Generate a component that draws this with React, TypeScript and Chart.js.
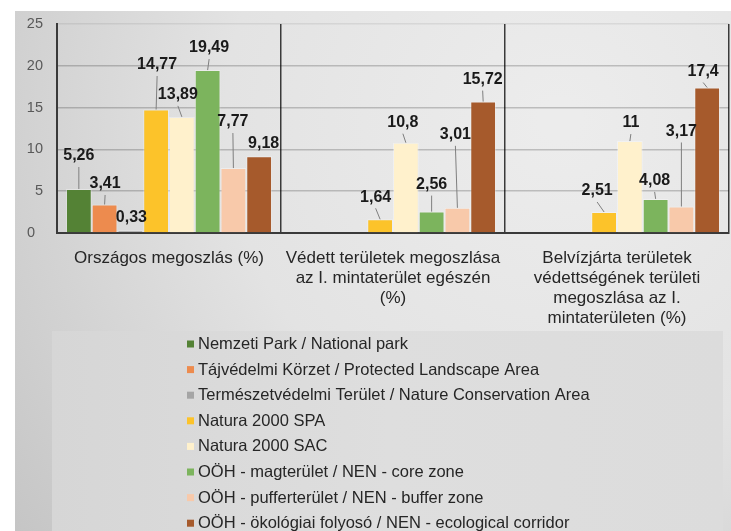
import React, { useEffect, useRef } from "react";
import { Chart, registerables } from "chart.js";
Chart.register(...registerables);

const categories: string[][] = [
  ["Országos megoszlás (%)"],
  ["Védett területek megoszlása", "az I. mintaterület egészén", "(%)"],
  ["Belvízjárta területek", "védettségének területi", "megoszlása az I.", "mintaterületen (%)"],
];

const seriesNames = [
  "Nemzeti Park / National park",
  "Tájvédelmi Körzet / Protected Landscape Area",
  "Természetvédelmi Terület / Nature Conservation Area",
  "Natura 2000 SPA",
  "Natura 2000 SAC",
  "OÖH - magterület / NEN - core zone",
  "OÖH - pufferterület / NEN - buffer zone",
  "OÖH - ökológiai folyosó / NEN - ecological corridor",
];

const nemzetiPark = [5.26, null, null];
const tajvedelmiKorzet = [3.41, null, null];
const termeszetvedelmiTerulet = [0.33, null, null];
const natura2000SPA = [14.77, 1.64, 2.51];
const natura2000SAC = [13.89, 10.8, 11];
const oohMagterulet = [19.49, 2.56, 4.08];
const oohPufferterulet = [7.77, 3.01, 3.17];
const oohOkologiaiFolyoso = [9.18, 15.72, 17.4];

const yTickMin = 0;
const yTickMax = 25;
const yTickStep = 5;

const seriesColors = [
  "#548235",
  "#ED8B4E",
  "#A5A5A5",
  "#FCC32A",
  "#FFF1CC",
  "#7CB45D",
  "#F8C9AA",
  "#A65A2C",
];

// label placement (text centre relative to bar top centre), per series, per category
const labelOffsets: number[][][] = [
  [[0, -33], [0, -15], [0, -15]],
  [[0.5, -20.5], [0, -15], [0, -15]],
  [[1, -13], [0, -15], [0, -15]],
  [[1, -44.5], [-4.5, -22], [-7, -21]],
  [[-4, -22], [-3, -20], [1, -18]],
  [[1.5, -22], [0, -27], [-1, -18]],
  [[-0.5, -46], [-2, -73], [0, -75]],
  [[4.5, -13], [-0.5, -22], [-4, -16]],
];

const seriesValues = [
  nemzetiPark,
  tajvedelmiKorzet,
  termeszetvedelmiTerulet,
  natura2000SPA,
  natura2000SAC,
  oohMagterulet,
  oohPufferterulet,
  oohOkologiaiFolyoso,
];

const FONT = "'Liberation Sans', Arial, sans-serif";

const backgroundPlugin = {
  id: "bgPlugin",
  beforeDraw(chart: any) {
    const ctx = chart.ctx;
    ctx.save();
    ctx.fillStyle = "#ffffff";
    ctx.fillRect(0, 0, chart.width, chart.height);
    const g = ctx.createRadialGradient(560, 120, 20, 560, 120, 720);
    g.addColorStop(0, "#ececec");
    g.addColorStop(0.45, "#e3e3e3");
    g.addColorStop(1, "#c2c2c2");
    ctx.fillStyle = g;
    ctx.fillRect(15, 11, chart.width - 15, chart.height - 11);
    // legend box
    const lg = ctx.createLinearGradient(52, 0, 723, 0);
    lg.addColorStop(0, "#d6d6d6");
    lg.addColorStop(0.5, "#dedede");
    lg.addColorStop(1, "#dcdcdc");
    ctx.fillStyle = lg;
    ctx.fillRect(52, 331, 671, chart.height - 331);
    ctx.restore();
  },
};

const labelsPlugin = {
  id: "labelsPlugin",
  afterDatasetsDraw(chart: any) {
    const ctx = chart.ctx;
    ctx.save();
    ctx.font = `bold 16px ${FONT}`;
    ctx.textAlign = "center";
    ctx.textBaseline = "middle";
    chart.data.datasets.forEach((ds: any, i: number) => {
      const meta = chart.getDatasetMeta(i);
      meta.data.forEach((el: any, j: number) => {
        const v = ds.data[j];
        if (v === null || v === undefined) return;
        const off = labelOffsets[i][j];
        const tx = el.x + off[0];
        const ty = el.y + off[1];
        if (el.y - (ty + 11) > 3) {
          ctx.strokeStyle = "#7f7f7f";
          ctx.lineWidth = 1;
          ctx.beginPath();
          ctx.moveTo(tx, ty + 11);
          ctx.lineTo(el.x, el.y);
          ctx.stroke();
        }
        ctx.fillStyle = "#1a1a1a";
        ctx.fillText(String(v).replace(".", ","), tx, ty);
      });
    });
    ctx.restore();
  },
};

const legendPlugin = {
  id: "customLegend",
  afterDraw(chart: any) {
    const ctx = chart.ctx;
    ctx.save();
    ctx.font = `16.5px ${FONT}`;
    ctx.textAlign = "left";
    ctx.textBaseline = "middle";
    chart.data.datasets.forEach((ds: any, i: number) => {
      const y = 344 + i * 25.6;
      ctx.fillStyle = ds.backgroundColor;
      ctx.fillRect(187, y - 3.5, 7, 7);
      ctx.fillStyle = "#262626";
      ctx.fillText(ds.label, 198, y + 0.5);
    });
    ctx.restore();
  },
};

export default function App() {
  const ref = useRef<HTMLCanvasElement | null>(null);
  useEffect(() => {
    if (!ref.current) return;
    const chart = new Chart(ref.current, {
      type: "bar",
      data: {
        labels: categories as any,
        datasets: seriesNames.map((name, i) => ({
          label: name,
          data: seriesValues[i] as any,
          backgroundColor: seriesColors[i],
          borderColor: "rgba(255,255,255,0.35)",
          borderWidth: 1,
          categoryPercentage: 0.92,
          barPercentage: 1,
        })),
      },
      options: {
        responsive: false,
        animation: false,
        devicePixelRatio: 1,
        layout: { padding: { left: 0, right: 2, top: 24, bottom: 200 } },
        plugins: {
          legend: { display: false },
          tooltip: { enabled: false },
        },
        scales: {
          x: {
            grid: {
              display: true,
              offset: true,
              color: "#3a3a3a",
              lineWidth: 1.5,
              drawTicks: false,
            },
            border: { display: true, color: "#3a3a3a", width: 2 },
            ticks: {
              color: "#262626",
              font: { family: FONT, size: 17, lineHeight: 1.18 },
              padding: 15,
              maxRotation: 0,
              autoSkip: false,
            },
            afterFit(scale: any) {
              scale.height = 98;
            },
          },
          y: {
            min: yTickMin,
            max: yTickMax,
            ticks: {
              stepSize: yTickStep,
              color: "#595959",
              font: { family: FONT, size: 14.5 },
              padding: 14,
              callback: (v: any) => (Number(v) === 0 ? "0  " : String(v)),
            },
            grid: {
              drawTicks: false,
              color: (c: any) => (c.tick && c.tick.value === yTickMax ? "rgba(0,0,0,0.07)" : "rgba(0,0,0,0.2)"),
              lineWidth: 1.5,
            },
            border: { display: true, color: "#3a3a3a", width: 2 },
            afterFit(scale: any) {
              scale.width = 57;
            },
          },
        },
      },
      plugins: [backgroundPlugin, labelsPlugin, legendPlugin],
    });
    return () => chart.destroy();
  }, []);
  return (
    <div style={{ position: "fixed", left: 0, top: 0, width: 731, height: 531 }}>
      <canvas ref={ref} width={731} height={531} style={{ display: "block", width: 731, height: 531 }} />
    </div>
  );
}
